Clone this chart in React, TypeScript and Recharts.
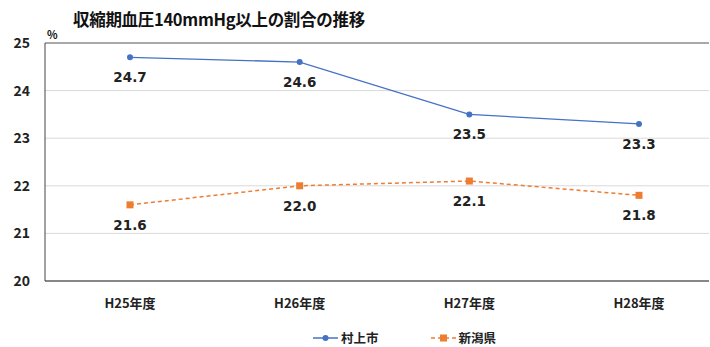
import { LineChart, Line, XAxis, YAxis, CartesianGrid, LabelList, ReferenceLine } from 'recharts';

const years = ['H25年度', 'H26年度', 'H27年度', 'H28年度'];
const murakami = [24.7, 24.6, 23.5, 23.3];
const niigata = [21.6, 22.0, 22.1, 21.8];
const yTicks = [20, 21, 22, 23, 24, 25];

const BLUE = '#4472C4';
const ORANGE = '#ED7D31';
const GOTHIC = "'Liberation Sans Narrow', 'Noto Sans CJK JP', sans-serif";

const data = years.map((year, i) => ({
  year,
  murakami: murakami[i],
  niigata: niigata[i],
}));

const SquareDot = (props: any) => {
  const { cx, cy } = props;
  if (cx == null || cy == null) return null;
  return <rect x={cx - 3.5} y={cy - 3.5} width={7} height={7} fill={ORANGE} />;
};

const ValueLabel = (props: any) => {
  const { x, y, value } = props;
  return (
    <text
      x={x}
      y={y + 25}
      textAnchor="middle"
      fontFamily="'DejaVu Sans', sans-serif"
      fontWeight="bold"
      fontSize={13.5}
      fill="#222"
    >
      {Number(value).toFixed(1)}
    </text>
  );
};

function LegendBox() {
  const item = (color: string, label: string, dashed: boolean, square: boolean) => (
    <div style={{ display: 'flex', alignItems: 'center', marginRight: 52 }}>
      <svg width={25} height={10} style={{ marginRight: 3 }}>
        <line x1={0} y1={5} x2={25} y2={5} stroke={color} strokeWidth={1.5} strokeDasharray={dashed ? '4 3' : undefined} />
        {square ? <rect x={9} y={1.5} width={7} height={7} fill={color} /> : <circle cx={12.5} cy={5} r={3} fill={color} />}
      </svg>
      <span style={{ fontFamily: GOTHIC, fontWeight: 'bold', fontSize: 12.5, color: '#222' }}>{label}</span>
    </div>
  );
  return (
    <div style={{ position: 'absolute', left: 313, top: 328, display: 'flex', alignItems: 'center' }}>
      {item(BLUE, '村上市', false, false)}
      {item(ORANGE, '新潟県', true, true)}
    </div>
  );
}

export default function App() {
  return (
    <div style={{ position: 'absolute', left: 0, top: 0, width: 710, height: 347, background: '#fff' }}>
      <div
        style={{
          position: 'absolute',
          left: 73,
          top: 7,
          fontFamily: GOTHIC,
          fontWeight: 'bold',
          fontSize: 16.5,
          letterSpacing: -0.3,
          color: '#111',
          whiteSpace: 'nowrap',
        }}
      >
        収縮期血圧140mmHg以上の割合の推移
      </div>
      <div
        style={{
          position: 'absolute',
          left: 47,
          top: 26,
          fontFamily: GOTHIC,
          fontWeight: 'bold',
          fontSize: 11,
          color: '#111',
        }}
      >
        %
      </div>
      <LineChart width={710} height={347} data={data} margin={{ top: 43, right: 1, bottom: 0, left: 0 }}>
        <CartesianGrid vertical={false} stroke="#d9d9d9" strokeWidth={1} />
        <XAxis
          dataKey="year"
          padding={{ left: 85, right: 70 }}
          axisLine={{ stroke: '#222', strokeWidth: 1.2 }}
          tickLine={false}
          tick={{ fontFamily: GOTHIC, fontWeight: 'bold', fontSize: 13, fill: '#222' }}
          tickMargin={12}
          height={66}
        />
        <YAxis
          domain={[20, 25]}
          ticks={yTicks}
          width={45}
          axisLine={{ stroke: '#444', strokeWidth: 1 }}
          tickLine={false}
          tick={{ fontFamily: GOTHIC, fontWeight: 'bold', fontSize: 14, fill: '#222' }}
          tickMargin={9}
        />
        <ReferenceLine y={25} stroke="#666" strokeWidth={1.2} />
        <Line
          type="linear"
          dataKey="murakami"
          stroke={BLUE}
          strokeWidth={1.3}
          dot={{ r: 3, fill: BLUE, stroke: BLUE, strokeWidth: 0 }}
          isAnimationActive={false}
        >
          <LabelList dataKey="murakami" content={ValueLabel} />
        </Line>
        <Line
          type="linear"
          dataKey="niigata"
          stroke={ORANGE}
          strokeWidth={1.5}
          strokeDasharray="4 3"
          dot={<SquareDot />}
          isAnimationActive={false}
        >
          <LabelList dataKey="niigata" content={ValueLabel} />
        </Line>
      </LineChart>
      <LegendBox />
    </div>
  );
}
